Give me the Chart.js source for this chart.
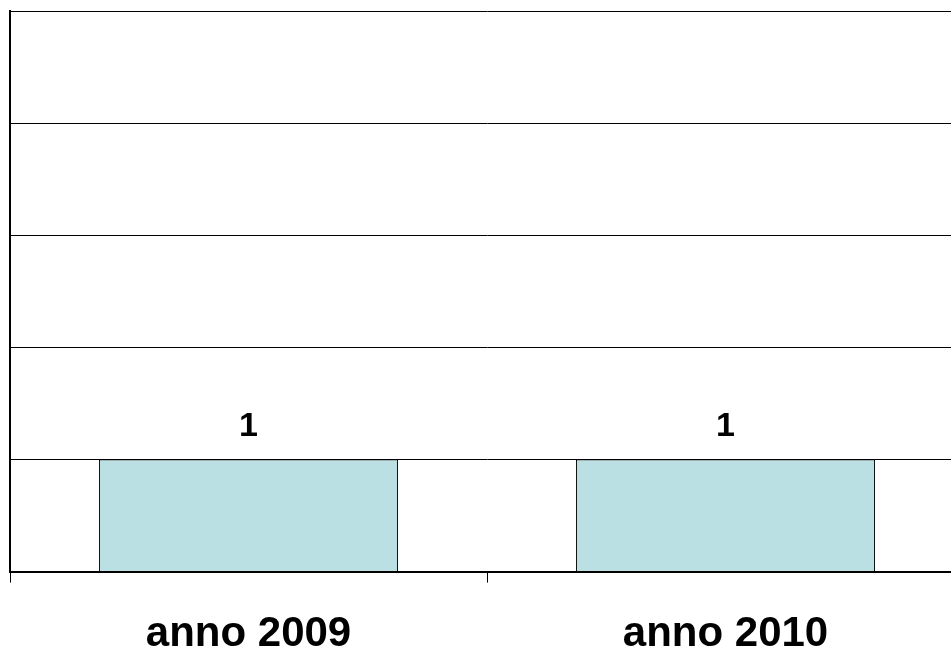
<!DOCTYPE html>
<html>
<head>
<meta charset="utf-8">
<script src="https://cdn.jsdelivr.net/npm/chart.js@4.4.0/dist/chart.umd.min.js"></script>
<style>
  html, body { margin: 0; padding: 0; background: #fff; overflow: hidden; }
  #wrap { width: 951px; height: 652px; overflow: hidden; }
  canvas { display: block; }
</style>
</head>
<body>
<div id="wrap"><canvas id="myChart" width="966" height="687"></canvas></div>
<script>
const categories = ['anno 2009', 'anno 2010']
const values = [1, 1]
const yTicks = [0, 1, 2, 3, 4, 5]

// draws the value over each bar
const valueLabels = {
  id: 'valueLabels',
  afterDatasetsDraw(chart) {
    const ctx = chart.ctx
    ctx.save()
    ctx.font = 'bold 34px "Liberation Sans", Arial, sans-serif'
    ctx.fillStyle = '#000'
    ctx.textAlign = 'center'
    ctx.textBaseline = 'alphabetic'
    chart.getDatasetMeta(0).data.forEach((bar, i) => {
      ctx.fillText(String(values[i]), bar.x, bar.y - 23)
    })
    ctx.restore()
  }
}

addEventListener('DOMContentLoaded', () => {
  const ctx = document.getElementById('myChart')

  new Chart(ctx, {
    type: 'bar',
    data: {
      labels: categories,
      datasets: [
        {
          label: 'valori',
          data: values,
          backgroundColor: '#BBE0E3',
          borderColor: '#000',
          borderWidth: 1,
          barPercentage: 0.627,
          categoryPercentage: 1
        }
      ]
    },
    options: {
      responsive: false,
      animation: false,
      layout: {
        padding: { left: 10, top: 11, right: 2, bottom: 0 }
      },
      plugins: {
        legend: { display: false },
        tooltip: { enabled: false }
      },
      scales: {
        x: {
          offset: true,
          grid: {
            offset: true,
            drawOnChartArea: false,
            color: '#000',
            tickLength: 11
          },
          border: { color: '#000', width: 2 },
          ticks: {
            color: '#000',
            padding: 27,
            font: { family: '"Liberation Sans", Arial, sans-serif', size: 42, weight: 'bold' }
          }
        },
        y: {
          min: yTicks[0],
          max: yTicks[yTicks.length - 1],
          afterBuildTicks: axis => { axis.ticks = yTicks.map(v => ({ value: v })) },
          grid: { color: '#000', drawTicks: false },
          border: { color: '#000', width: 2 },
          ticks: { display: false }
        }
      }
    },
    plugins: [valueLabels]
  })
})
</script>
</body>
</html>
